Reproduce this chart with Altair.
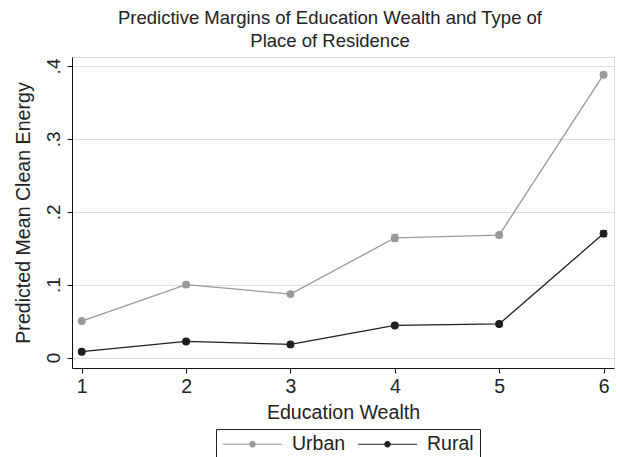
import altair as alt
import pandas as pd

# Predictive margins by education-wealth level, split by place of residence
edu = [1, 2, 3, 4, 5, 6]
urban = [0.050, 0.100, 0.087, 0.164, 0.168, 0.388]
rural = [0.008, 0.022, 0.018, 0.044, 0.046, 0.170]
urban_lo = [0.048, 0.097, 0.085, 0.159, 0.165, 0.385]
urban_hi = [0.052, 0.103, 0.089, 0.169, 0.171, 0.391]
rural_lo = [0.007, 0.020, 0.016, 0.042, 0.044, 0.166]
rural_hi = [0.009, 0.024, 0.020, 0.046, 0.048, 0.174]
groups = ["Urban", "Rural"]
colors = ["#999999", "#1f1f1f"]
y_ticks = [0, 0.1, 0.2, 0.3, 0.4]
Y_TITLE = "Predicted Mean Clean Energy"

rows = []
for g, vals, lo, hi in [("Urban", urban, urban_lo, urban_hi),
                        ("Rural", rural, rural_lo, rural_hi)]:
    for e, v, l, h in zip(edu, vals, lo, hi):
        rows.append({"edu": e, "margin": v, "lo": l, "hi": h, "residence": g})
df = pd.DataFrame(rows)

FONT = "Liberation Sans"
TXT = "#222222"

x_enc = alt.X(
    "edu:Q",
    scale=alt.Scale(domain=[0.907, 6.10], nice=False, zero=False),
    axis=alt.Axis(
        values=edu, format="d", title="Education Wealth",
        grid=False, domainColor="#111111", tickColor="#111111",
        tickSize=5, labelFontSize=19.5, labelColor=TXT, labelFont=FONT,
        labelBaseline="alphabetic", labelPadding=19,
        titleFontSize=19.6, titleFont=FONT, titleColor=TXT,
        titleFontWeight="normal", titleBaseline="alphabetic", titleY=50,
    ),
)
y_enc = alt.Y(
    "margin:Q",
    scale=alt.Scale(domain=[-0.0144, 0.4123], nice=False, zero=False),
    axis=alt.Axis(
        values=y_ticks, title=Y_TITLE,
        labelExpr="datum.value == 0 ? '0' : replace(format(datum.value, '.1f'), '0.', '.')",
        grid=True, gridColor="#dedede", gridWidth=1.2,
        domainColor="#111111", tickColor="#111111", tickSize=5,
        labelFontSize=19, labelColor=TXT, labelFont=FONT,
        labelAngle=270, labelAlign="center", labelBaseline="alphabetic",
        labelPadding=8,
        titleFontSize=19.6, titleFont=FONT, titleColor=TXT,
        titleFontWeight="normal", titleAngle=270, titleBaseline="middle",
        titleX=-49,
    ),
)
group_scale = alt.Scale(domain=groups, range=colors)

# legend glyph: a line segment with a dot in the middle
legend_symbol = ("M-1,0L1,0M-0.09,0A0.09,0.09,0,1,0,0.09,0"
                 "A0.09,0.09,0,1,0,-0.09,0Z")
legend = alt.Legend(
    title=None, orient="none", legendX=144, legendY=372,
    direction="horizontal", strokeColor="#222222", padding=6,
    symbolType=legend_symbol, symbolSize=3481, symbolStrokeWidth=1.2,
    clipHeight=18, labelOffset=9, columnPadding=11,
    labelFontSize=19.5, labelFont=FONT, labelColor=TXT,
)

lines = alt.Chart(df).mark_line(strokeWidth=1.3).encode(
    x=x_enc,
    y=y_enc,
    stroke=alt.Stroke("residence:N", scale=group_scale, sort=groups, legend=legend),
)

# confidence intervals around each margin
bars = alt.Chart(df).mark_errorbar(ticks=alt.TickConfig(size=7, thickness=1.3),
                                   thickness=1.3).encode(
    x="edu:Q",
    y=alt.Y("lo:Q", title=Y_TITLE),
    y2="hi:Q",
    color=alt.Color("residence:N", scale=group_scale, legend=None),
)

points = alt.Chart(df).mark_point(filled=True, size=45, opacity=1,
                                  strokeWidth=1.2).encode(
    x="edu:Q",
    y="margin:Q",
    fill=alt.Fill("residence:N", scale=group_scale, sort=groups, legend=legend),
    stroke=alt.Stroke("residence:N", scale=group_scale, sort=groups, legend=legend),
)

chart = alt.layer(lines, bars, points).properties(
    width=542,
    height=311,
    autosize=alt.AutoSizeParams(type="none"),
    padding={"left": 72, "top": 57, "right": 3, "bottom": 89},
    title=alt.TitleParams(
        ["Predictive Margins of Education Wealth and Type of", "Place of Residence"],
        fontSize=18.5, font=FONT, fontWeight="normal", color=TXT,
        anchor="middle", dx=-13, offset=7, lineHeight=22.5,
    ),
).configure_view(stroke=None).configure(background="white")

chart.save("out.html", embed_options={"renderer": "svg", "actions": False})
